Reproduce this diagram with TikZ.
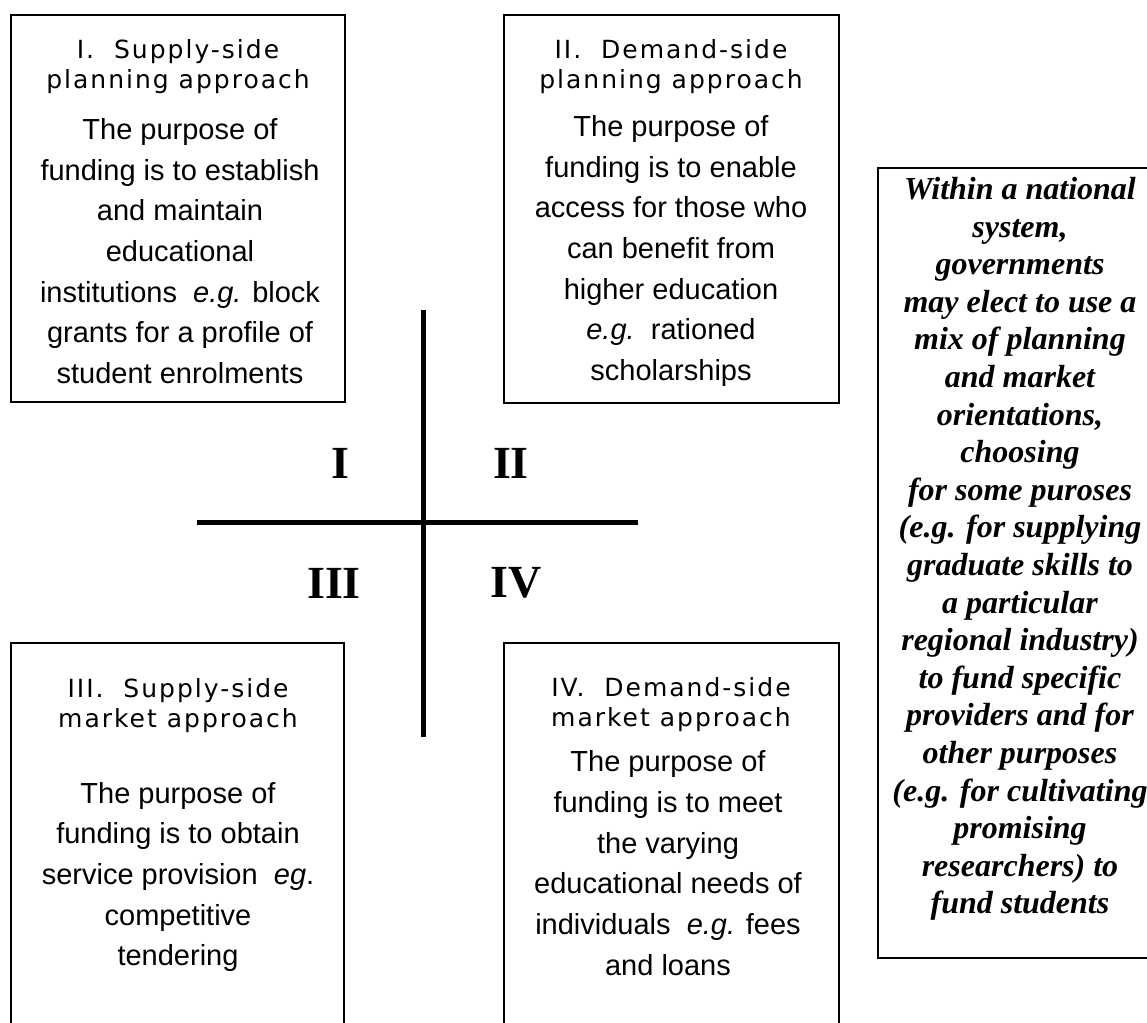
\documentclass[tikz,border=0pt]{standalone}
\usepackage{fontspec}
\usepackage{tikz}
\usetikzlibrary{positioning}
\newfontfamily\headfont{DejaVu Sans}[LetterSpace=8]
\newfontfamily\bodyfont{Liberation Sans}
\newfontfamily\notefont{Liberation Serif}
\tikzstyle{quadbox} = [draw=black, line width=1.5pt]
\tikzstyle{axis} = [line width=3.75pt]

\begin{document}
\begin{tikzpicture}[x=0.75pt, y=-0.75pt,
heading/.style={align=center, inner sep=0pt, font=\headfont\fontsize{18.75}{22.5}\selectfont},
purpose/.style={align=center, inner sep=0pt, font=\bodyfont\fontsize{21.75}{30.5}\selectfont},
numeral/.style={inner sep=0pt, font=\notefont\bfseries\fontsize{34.5}{36}\selectfont},
sidenote/.style={align=center, inner sep=0pt, font=\notefont\bfseries\itshape\fontsize{24}{28.2}\selectfont},
]
\useasboundingbox (0,0) rectangle (1147,1023);

%Boxes
\node[quadbox, minimum width=250.5pt, minimum height=290.25pt] (boxI)  at (178,208.5) {};
\node[quadbox, minimum width=251.25pt, minimum height=291pt]   (boxII) at (671.5,209) {};
\draw[quadbox] (11,1030) |- (344,643) -- (344,1030);
\draw[quadbox] (504,1030) |- (839,643) -- (839,1030);
\draw[quadbox] (1160,168) -| (878,958) -- (1160,958);

%Box texts
\node[heading] (headI)   at (178,67)  {I.\ \ Supply-side\\planning approach};
\node[purpose] (textI)   at (180,251) {The purpose of\\funding is to establish\\and maintain\\educational\\institutions \ \textit{e.g.} block\\grants for a profile of\\student enrolments};
\node[heading] (headII)  at (671,67)  {II.\ \ Demand-side\\planning approach};
\node[purpose] (textII)  at (671,251) {The purpose of\\funding is to enable\\access for those who\\can benefit from\\higher education\\\textit{e.g.}\ \ rationed\\scholarships};
\node[heading] (headIII) at (178,706) {III.\ \ Supply-side\\market approach};
\node[purpose] (textIII) at (178,877) {The purpose of\\funding is to obtain\\service provision \ \textit{eg}.\\competitive\\tendering};
\node[heading] (headIV)  at (671,705) {IV.\ \ Demand-side\\market approach};
\node[purpose] (textIV)  at (668,863) {The purpose of\\funding is to meet\\the varying\\educational needs of\\individuals \ \textit{e.g.} fees\\and loans};

%Side note
\node[sidenote] (note) at (1020,549) {Within a national\\system,\\governments\\may elect to use a\\mix of planning\\and market\\orientations,\\choosing\\for some puroses\\(e.g. for supplying\\graduate skills to\\a particular\\regional industry)\\to fund specific\\providers and for\\other purposes\\(e.g. for cultivating\\promising\\researchers) to\\fund students};

%Cross
\coordinate (crossN) at (423,310);
\coordinate (crossS) at (423,737);
\coordinate (crossW) at (197,523);
\coordinate (crossE) at (638,523);
\draw[axis] (crossN) -- (crossS);
\draw[axis] (crossW) -- (crossE);

%Numerals
\node[numeral] (numI)   at (340,463) {I};
\node[numeral] (numII)  at (511,463) {II};
\node[numeral] (numIII) at (334,583) {III};
\node[numeral] (numIV)  at (516,583) {IV};

\end{tikzpicture}
\end{document}
